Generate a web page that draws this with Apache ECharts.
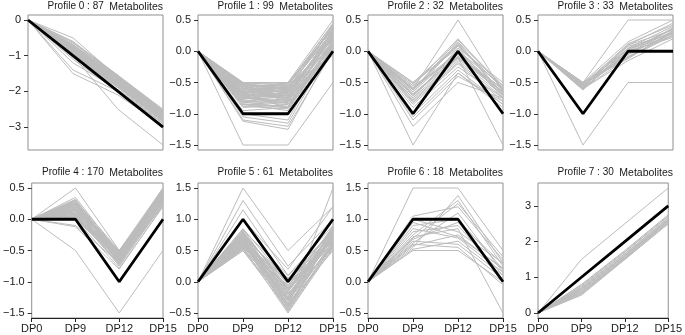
<!DOCTYPE html>
<html>
<head>
<meta charset="utf-8">
<script src="https://cdn.jsdelivr.net/npm/echarts@6/dist/echarts.min.js"></script>
<style>
html,body{margin:0;padding:0;background:#fff;}
#chart{width:685px;height:335px;}
</style>
</head>
<body>
<div id="chart"></div>
<script>
// ---------- DATA ----------
const categories = ['DP0', 'DP9', 'DP12', 'DP15'];
const profileIds = [0, 1, 2, 3, 4, 5, 6, 7];
const counts = [87, 99, 32, 33, 170, 61, 18, 30];
const profiles = [
  [0, -1, -2, -3],
  [0, -1, -1, 0],
  [0, -1, 0, -1],
  [0, -1, 0, 0],
  [0, 0, -1, 0],
  [0, 1, 0, 1],
  [0, 1, 1, 0],
  [0, 1, 2, 3]
];

const members0 = [
  [0, -0.5, -1.6, -2.6], [0, -0.6, -1.55, -2.5], [0, -0.7, -1.6, -2.55], [0, -0.8, -1.65, -2.6],
  [0, -0.85, -1.7, -2.65], [0, -0.9, -1.75, -2.7], [0, -0.95, -1.8, -2.75], [0, -1.0, -1.85, -2.8],
  [0, -0.8, -1.7, -2.7], [0, -0.75, -1.6, -2.6], [0, -0.9, -1.65, -2.65], [0, -1.0, -1.75, -2.85],
  [0, -1.05, -1.9, -2.9], [0, -1.1, -2.0, -2.95], [0, -1.2, -1.95, -2.9], [0, -0.85, -1.75, -2.75],
  [0, -0.95, -1.85, -2.8], [0, -1.4, -2.0, -2.9], [0, -1.5, -2.1, -2.95], [0, -1.0, -2.5, -3.5],
  [0, -0.65, -1.55, -2.6], [0, -0.7, -1.7, -2.55], [0, -0.88, -1.62, -2.68], [0, -0.78, -1.78, -2.72],
  [0, -0.72, -1.58, -2.52], [0, -0.74, -1.64, -2.58], [0, -0.78, -1.66, -2.62], [0, -0.82, -1.68, -2.64],
  [0, -0.84, -1.72, -2.66], [0, -0.86, -1.76, -2.7], [0, -0.88, -1.74, -2.74], [0, -0.9, -1.8, -2.76],
  [0, -0.92, -1.82, -2.78], [0, -0.94, -1.78, -2.7], [0, -0.96, -1.84, -2.82], [0, -0.98, -1.86, -2.84],
  [0, -0.76, -1.62, -2.66], [0, -0.8, -1.6, -2.56], [0, -0.83, -1.7, -2.6], [0, -0.87, -1.72, -2.72],
  [0, -0.93, -1.76, -2.68], [0, -0.97, -1.8, -2.74], [0, -1.02, -1.88, -2.86], [0, -0.69, -1.56, -2.54],
  [0, -0.62, -1.58, -2.62], [0, -0.91, -1.68, -2.62]
];
const members1 = [
  [0, -0.5, -0.5, 0.5], [0, -0.5, -0.55, 0.45], [0, -0.55, -0.6, 0.4], [0, -0.6, -0.5, 0.35],
  [0, -0.6, -0.65, 0.3], [0, -0.65, -0.7, 0.25], [0, -0.7, -0.6, 0.2], [0, -0.7, -0.75, 0.15],
  [0, -0.75, -0.8, 0.1], [0, -0.8, -0.7, 0.05], [0, -0.8, -0.85, 0.0], [0, -0.85, -0.9, -0.05],
  [0, -0.55, -0.75, 0.3], [0, -0.65, -0.55, 0.4], [0, -0.75, -0.65, 0.2], [0, -0.9, -0.85, 0.1],
  [0, -0.85, -0.95, 0.15], [0, -0.95, -0.9, 0.05], [0, -1.05, -1.15, 0.1], [0, -1.1, -1.2, 0.0],
  [0, -1.12, -1.25, 0.05], [0, -1.0, -1.1, 0.2], [0, -1.5, -1.5, -0.5], [0, -0.6, -0.8, 0.25],
  [0, -0.7, -0.9, 0.35], [0, -0.52, -0.62, 0.42], [0, -0.68, -0.72, 0.32],
  [0, -0.52, -0.52, 0.38], [0, -0.54, -0.58, 0.32], [0, -0.56, -0.54, 0.28], [0, -0.58, -0.63, 0.22],
  [0, -0.62, -0.58, 0.18], [0, -0.64, -0.68, 0.12], [0, -0.66, -0.62, 0.42], [0, -0.68, -0.74, 0.36],
  [0, -0.72, -0.66, 0.3], [0, -0.74, -0.78, 0.24], [0, -0.76, -0.7, 0.16], [0, -0.78, -0.82, 0.08],
  [0, -0.82, -0.76, 0.02], [0, -0.84, -0.88, 0.12], [0, -0.86, -0.8, 0.28], [0, -0.88, -0.92, 0.06],
  [0, -0.53, -0.68, 0.26], [0, -0.57, -0.72, 0.34], [0, -0.63, -0.52, 0.44], [0, -0.67, -0.56, 0.14],
  [0, -0.71, -0.84, 0.04], [0, -0.73, -0.6, 0.38], [0, -0.77, -0.64, 0.22], [0, -0.81, -0.9, 0.18],
  [0, -0.59, -0.78, 0.1], [0, -0.51, -0.6, 0.2], [0, -0.69, -0.5, 0.3]
];
const members2 = [
  [0, -0.5, 0.15, -0.55], [0, -0.55, 0.2, -0.6], [0, -0.6, 0.1, -0.6], [0, -0.6, 0.5, -0.65],
  [0, -0.65, 0.0, -0.55], [0, -0.7, -0.05, -0.7], [0, -0.7, -0.1, -0.65], [0, -0.75, 0.05, -0.75],
  [0, -0.8, -0.15, -0.7], [0, -0.85, -0.2, -0.8], [0, -0.9, -0.25, -0.75], [0, -0.55, -0.1, -0.6],
  [0, -0.65, 0.12, -0.7], [0, -1.0, -0.3, -0.85], [0, -1.05, -0.35, -0.9], [0, -1.1, -0.4, -0.8],
  [0, -1.2, -0.5, -0.75], [0, -0.75, -0.1, -1.5], [0, -1.5, -0.35, -0.85], [0, -0.6, -0.05, -0.65],
  [0, -0.5, 0.05, -0.5], [0, -0.52, 0.08, -0.58], [0, -0.58, -0.02, -0.62], [0, -0.62, 0.14, -0.68],
  [0, -0.68, -0.08, -0.6], [0, -0.72, 0.02, -0.72], [0, -0.78, -0.12, -0.66], [0, -0.82, -0.18, -0.74],
  [0, -0.62, 0.18, -0.56]
];
const members3 = [
  [0, -0.5, 0.5, 0.5], [0, -0.5, 0.15, 0.5], [0, -0.52, 0.1, 0.45], [0, -0.55, 0.05, 0.4],
  [0, -0.55, 0.0, 0.35], [0, -0.58, -0.05, 0.3], [0, -0.6, -0.1, 0.25], [0, -0.6, -0.15, 0.2],
  [0, -0.62, 0.05, 0.3], [0, -0.53, -0.05, 0.38], [0, -0.57, 0.08, 0.28], [0, -0.6, 0.0, 0.22],
  [0, -0.5, -0.12, 0.33], [0, -1.5, -0.5, -0.5], [0, -0.51, 0.02, 0.36], [0, -0.54, -0.08, 0.26],
  [0, -0.56, 0.12, 0.42], [0, -0.59, -0.02, 0.32], [0, -0.61, 0.04, 0.24], [0, -0.52, -0.1, 0.3],
  [0, -0.58, 0.1, 0.34], [0, -0.55, -0.04, 0.28]
];
const members4 = [
  [0, 0.5, -0.5, 0.5], [0, 0.35, -0.55, 0.45], [0, 0.3, -0.6, 0.4], [0, 0.25, -0.65, 0.35],
  [0, 0.2, -0.7, 0.3], [0, 0.15, -0.75, 0.25], [0, 0.1, -0.55, 0.5], [0, 0.05, -0.6, 0.45],
  [0, 0.0, -0.65, 0.4], [0, 0.3, -0.5, 0.3], [0, 0.2, -0.58, 0.38], [0, 0.1, -0.68, 0.28],
  [0, 0.25, -0.53, 0.48], [0, 0.0, -0.78, 0.2], [0, -0.1, -0.7, 0.3], [0, -0.12, -0.8, 0.22],
  [0, 0.28, -0.62, 0.35], [0, 0.18, -0.52, 0.42], [0, 0.08, -0.72, 0.36], [0, -0.5, -1.5, -0.5],
  [0, 0.02, -0.52, 0.46], [0, 0.04, -0.56, 0.42], [0, 0.06, -0.62, 0.38], [0, 0.08, -0.66, 0.34],
  [0, 0.12, -0.5, 0.44], [0, 0.14, -0.6, 0.4], [0, 0.16, -0.64, 0.32], [0, 0.18, -0.7, 0.26],
  [0, 0.22, -0.54, 0.48], [0, 0.24, -0.58, 0.36], [0, 0.26, -0.66, 0.42], [0, 0.28, -0.72, 0.3],
  [0, 0.3, -0.56, 0.46], [0, 0.32, -0.6, 0.4], [0, 0.22, -0.62, 0.5], [0, 0.12, -0.66, 0.22],
  [0, 0.04, -0.7, 0.34], [0, 0.16, -0.54, 0.28], [0, 0.2, -0.68, 0.44], [0, 0.26, -0.52, 0.38],
  [0, 0.1, -0.58, 0.32], [0, 0.06, -0.74, 0.26], [0, 0.24, -0.64, 0.24], [0, 0.14, -0.5, 0.36],
  [0, 0.0, -0.56, 0.3], [0, 0.02, -0.62, 0.48]
];
const members5 = [
  [0, 1.5, 0.5, 1.2], [0, 1.3, 0.25, 1.0], [0, 0.8, -0.4, 1.5], [0, 1.15, 0.1, 0.9],
  [0, 0.85, 0.0, 0.85], [0, 0.8, -0.1, 0.8], [0, 0.75, -0.2, 0.75], [0, 0.7, -0.3, 0.7],
  [0, 0.65, -0.4, 0.65], [0, 0.6, -0.45, 0.6], [0, 0.55, -0.5, 0.55], [0, 0.5, -0.35, 0.5],
  [0, 0.55, -0.15, 0.7], [0, 0.62, -0.25, 0.85], [0, 0.72, 0.05, 0.6], [0, 0.78, -0.05, 0.65],
  [0, 0.68, -0.35, 0.9], [0, 0.58, -0.28, 0.75], [0, 0.83, 0.1, 0.8], [0, 0.5, -0.45, 0.62],
  [0, 1.0, 0.2, 1.2], [0, 0.66, -0.12, 0.68], [0, 0.74, -0.42, 0.82],
  [0, 0.52, -0.4, 0.52], [0, 0.54, -0.3, 0.58], [0, 0.57, -0.2, 0.64], [0, 0.6, -0.1, 0.7],
  [0, 0.63, 0.0, 0.76], [0, 0.66, -0.45, 0.8], [0, 0.69, -0.32, 0.86], [0, 0.71, -0.22, 0.56],
  [0, 0.73, -0.12, 0.62], [0, 0.76, -0.02, 0.68], [0, 0.79, -0.38, 0.74], [0, 0.81, -0.26, 0.72],
  [0, 0.84, -0.16, 0.78], [0, 0.56, -0.06, 0.84], [0, 0.61, 0.06, 0.66], [0, 0.64, -0.48, 0.58],
  [0, 0.67, -0.36, 0.64], [0, 0.7, -0.08, 0.88], [0, 0.74, -0.18, 0.54], [0, 0.77, -0.28, 0.6],
  [0, 0.53, -0.24, 0.76], [0, 0.59, -0.14, 0.82]
];
const members6 = [
  [0, 1.5, 1.5, 0.5], [0, 1.05, 1.2, 0.35], [0, 1.0, 0.8, 0.3], [0, 0.9, 1.0, 0.2],
  [0, 0.85, 0.7, 0.15], [0, 0.8, 0.9, 0.1], [0, 0.75, 1.3, 0.25], [0, 0.7, 1.25, 0.4],
  [0, 0.65, 0.6, 0.05], [0, 0.6, 0.55, -0.05], [0, 0.55, 1.38, 0.3], [0, 0.58, 0.75, 0.2],
  [0, 0.52, 0.65, 0.1], [0, 0.5, 0.5, 0.0], [0, 0.62, 1.1, 0.15], [0, 0.72, 0.85, -0.5],
  [0, 0.95, 0.72, 0.22], [0, 0.68, 0.95, 0.28]
];
const members7 = [
  [0, 1.5, 2.5, 3.5], [0, 0.8, 1.75, 2.75], [0, 0.75, 1.7, 2.7], [0, 0.7, 1.65, 2.65],
  [0, 0.65, 1.6, 2.6], [0, 0.6, 1.55, 2.55], [0, 0.55, 1.5, 2.5], [0, 0.5, 1.5, 2.5],
  [0, 0.68, 1.6, 2.6], [0, 0.58, 1.55, 2.55], [0, 0.52, 1.52, 2.52], [0, 0.62, 1.58, 2.58],
  [0, 0.72, 1.66, 2.66], [0, 0.78, 1.72, 2.72], [0, 0.56, 1.52, 2.6], [0, 0.66, 1.62, 2.62]
];
const members = [members0, members1, members2, members3, members4, members5, members6, members7];

const yTicks0 = [0, -1, -2, -3];
const yTicks1 = [0.5, 0, -0.5, -1, -1.5];
const yTicks2 = [0.5, 0, -0.5, -1, -1.5];
const yTicks3 = [0.5, 0, -0.5, -1, -1.5];
const yTicks4 = [0.5, 0, -0.5, -1, -1.5];
const yTicks5 = [1.5, 1, 0.5, 0, -0.5];
const yTicks6 = [1.5, 1, 0.5, 0, -0.5];
const yTicks7 = [0, 1, 2, 3];
const yTicks = [yTicks0, yTicks1, yTicks2, yTicks3, yTicks4, yTicks5, yTicks6, yTicks7];
const yDecimals = [0, 1, 1, 1, 1, 1, 1, 0];

// ---------- LAYOUT ----------
const FONT = 'Liberation Sans, Arial, Helvetica, sans-serif';
const colLefts = [28, 198, 368, 538];
const plotW = 135;
const rowTops = [15, 183];
const plotH = 135;
const GRAY = '#bcbcbc';

function fmt(v, d) {
  return v.toFixed(d).replace('-', '\u2212');
}

const grids = [], xAxes = [], yAxes = [], series = [], graphics = [];
for (let i = 0; i < 8; i++) {
  const row = Math.floor(i / 4), col = i % 4;
  const bottomRow = row === 1;
  grids.push({
    left: colLefts[col], top: rowTops[row], width: plotW, height: plotH,
    show: true, borderColor: '#8f8f8f', borderWidth: 1, backgroundColor: 'transparent'
  });
  let lo = Infinity, hi = -Infinity;
  members[i].concat([profiles[i]]).forEach(l => l.forEach(v => { lo = Math.min(lo, v); hi = Math.max(hi, v); }));
  const pad = (hi - lo) * 0.04;
  const d = yDecimals[i];
  xAxes.push({
    type: 'category', gridIndex: i, data: categories, boundaryGap: false,
    axisLine: { show: bottomRow, onZero: false, lineStyle: { color: '#222', width: 1 } },
    axisTick: { show: bottomRow, length: 4, inside: false, interval: 0, lineStyle: { color: '#222' } },
    axisLabel: { show: bottomRow, interval: 0, margin: 5, fontSize: 11, color: '#1a1a1a', fontFamily: FONT, hideOverlap: false },
    splitLine: { show: false }
  });
  yAxes.push({
    type: 'value', gridIndex: i, min: lo - pad, max: hi + pad,
    axisLine: { show: false },
    axisTick: { show: true, length: 4, customValues: yTicks[i], lineStyle: { color: '#333' } },
    axisLabel: {
      show: true, customValues: yTicks[i], margin: 7, fontSize: 11, color: '#1a1a1a', fontFamily: FONT,
      formatter: v => fmt(v, d)
    },
    splitLine: { show: false }
  });
  members[i].forEach(line => {
    series.push({
      type: 'line', xAxisIndex: i, yAxisIndex: i, data: line, symbol: 'none', silent: true,
      lineStyle: { color: GRAY, width: 1 }, z: 2, animation: false
    });
  });
  series.push({
    type: 'line', xAxisIndex: i, yAxisIndex: i, data: profiles[i], symbol: 'none', silent: true,
    lineStyle: { color: '#000', width: 2.8 }, z: 5, animation: false
  });
  graphics.push({
    type: 'text', x: colLefts[col] + plotW, y: rowTops[row] - 9 + (bottomRow ? -2 : 0),
    style: {
      text: '{a|Profile ' + profileIds[i] + ' : ' + counts[i] + '}  {b|Metabolites}',
      align: 'right', verticalAlign: 'middle', fontFamily: FONT, fontSize: 10, fill: '#1a1a1a',
      rich: {
        a: { fontSize: 10, fontFamily: FONT, fill: '#1a1a1a', lineHeight: 13 },
        b: { fontSize: 10.5, fontFamily: FONT, fill: '#1a1a1a', lineHeight: 13, padding: [2, 0, 0, 0] }
      }
    }
  });
}

const chart = echarts.init(document.getElementById('chart'), null, { renderer: 'canvas' });
chart.setOption({
  animation: false,
  backgroundColor: '#fff',
  grid: grids,
  xAxis: xAxes,
  yAxis: yAxes,
  series: series,
  graphic: graphics
});
</script>
</body>
</html>
